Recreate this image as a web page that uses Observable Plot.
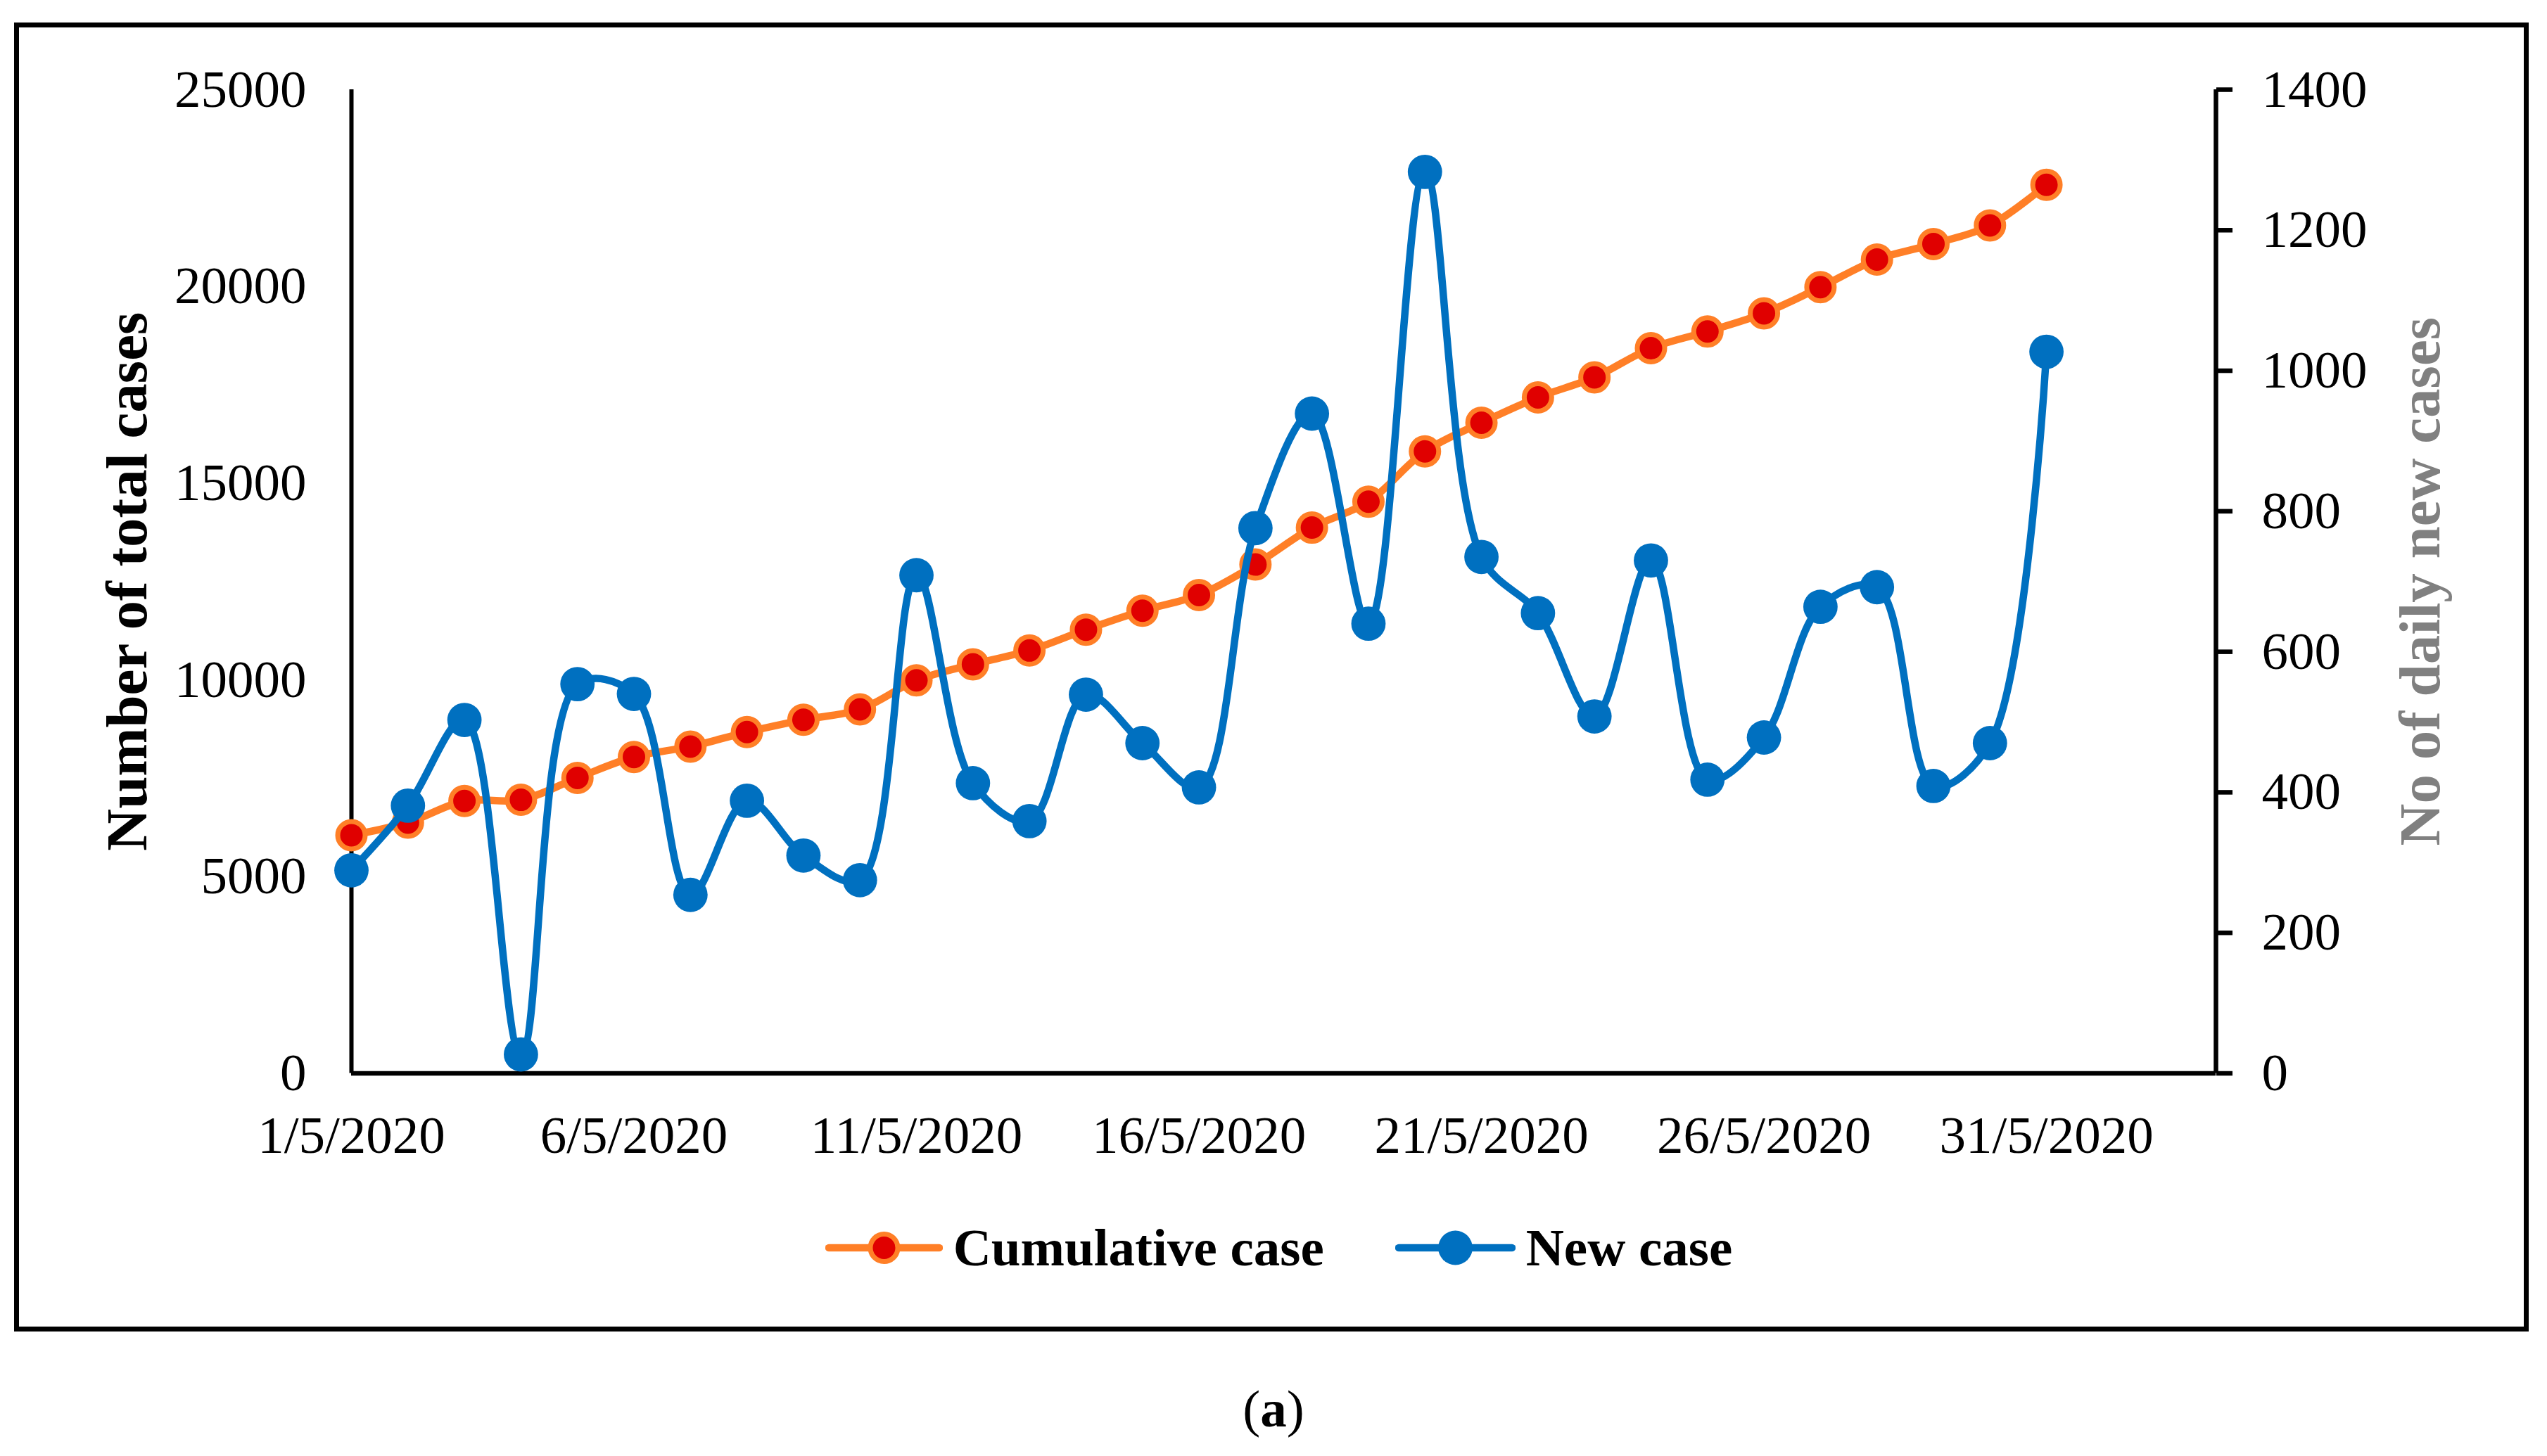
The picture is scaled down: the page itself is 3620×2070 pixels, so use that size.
<!DOCTYPE html>
<html>
<head>
<meta charset="utf-8">
<script src="https://cdn.jsdelivr.net/npm/d3@7"></script>
<script src="https://cdn.jsdelivr.net/npm/@observablehq/plot@0.6"></script>
<style>
  html, body { margin: 0; padding: 0; background: #fff; }
  body { width: 3620px; height: 2070px; position: relative; overflow: hidden; font-family: "Liberation Serif", "Times New Roman", serif; }
  #frame { position: absolute; left: 20px; top: 32px; width: 3560px; height: 1847px; border: 7px solid #000; }
  #frame svg { display: block; }
  #legend { height: 150px; display: flex; align-items: center; justify-content: center; padding-left: 21px; box-sizing: border-box; font-weight: bold; font-size: 75px; color: #000; }
  #legend .sym { display: block; }
  #caption { position: absolute; left: 0; top: 1965px; width: 3620px; text-align: center; font-size: 75px; line-height: 75px; color: #000; }
</style>
</head>
<body>
<div id="frame">
  <div id="chart"></div>
  <div id="legend"></div>
</div>
<div id="caption">(<b>a</b>)</div>
<script>
// ---- data ----
const days = [1,2,3,4,5,6,7,8,9,10,11,12,13,14,15,16,17,18,19,20,21,22,23,24,25,26,27,28,29,30,31];
const cumulativeCases = [6053,6375,6923,6952,7510,8041,8305,8674,8986,9251,9989,10397,10747,11277,11759,12156,12932,13870,14530,15807,16536,17179,17690,18429,18855,19317,19981,20682,21078,21552,22583];
const newCases = [289,381,503,27,554,540,254,388,310,275,709,413,359,539,470,407,776,939,640,1283,735,655,508,730,418,478,664,692,409,470,1027];
const xTickDays = [1,6,11,16,21,26,31];
const leftTicks = [0,5000,10000,15000,20000,25000];
const rightTicks = [0,200,400,600,800,1000,1200,1400];
const seriesNames = ["Cumulative case", "New case"];
const leftTitle = "Number of total cases";
const rightTitle = "No of daily new cases";

const leftMax = 25000, rightMax = 1400;
const ratio = leftMax / rightMax;
const dayDate = d => new Date(Date.UTC(2020, 4, d));
const rows = days.map((d, i) => ({date: dayDate(d), cum: cumulativeCases[i], nw: newCases[i]}));

const ORANGE = "#FF7F27", RED = "#E00000", BLUE = "#0070C0", GREY = "#808080";
const fmtDate = d => `${d.getUTCDate()}/${d.getUTCMonth() + 1}/${d.getUTCFullYear()}`;

const chart = Plot.plot({
  width: 3560,
  height: 1660,
  marginLeft: 472,
  marginRight: 438,
  marginTop: 88,
  marginBottom: 173.5,
  style: {fontFamily: "'Liberation Serif', 'Times New Roman', serif", fontSize: "75px", color: "#000", background: "transparent", overflow: "visible"},
  x: {type: "utc", domain: [dayDate(1), dayDate(34)]},
  y: {domain: [0, leftMax]},
  marks: [
    Plot.axisX({ticks: xTickDays.map(dayDate), tickFormat: fmtDate, tickSize: 0, tickPadding: 60, label: null, fontSize: 75}),
    Plot.axisY({anchor: "left", ticks: leftTicks, tickFormat: d => String(d), tickSize: 0, tickPadding: 64, label: null, fontSize: 75}),
    Plot.axisY({anchor: "right", ticks: rightTicks.map(v => v * ratio), tickFormat: d => String(Math.round(d / ratio)), tickSize: 23, tickPadding: 42, strokeWidth: 6.5, label: null, fontSize: 75}),
    Plot.ruleX([dayDate(1)], {stroke: "#000", strokeWidth: 6}),
    Plot.ruleX([dayDate(34)], {stroke: "#000", strokeWidth: 6.5}),
    Plot.ruleY([0], {stroke: "#000", strokeWidth: 6.5}),
    Plot.line(rows, {x: "date", y: "cum", stroke: ORANGE, strokeWidth: 10.5, curve: "catmull-rom", strokeLinejoin: "round", strokeLinecap: "round"}),
    Plot.dot(rows, {x: "date", y: "cum", r: 19.5, fill: RED, stroke: ORANGE, strokeWidth: 7}),
    Plot.line(rows, {x: "date", y: d => d.nw * ratio, stroke: BLUE, strokeWidth: 10.5, curve: "catmull-rom", strokeLinejoin: "round", strokeLinecap: "round"}),
    Plot.dot(rows, {x: "date", y: d => d.nw * ratio, r: 24.4, fill: BLUE, stroke: "none"}),
    Plot.text([leftTitle], {text: d => d, frameAnchor: "left", textAnchor: "middle", dx: -317.6, rotate: -90, fontSize: 83, fontWeight: "bold", fill: "#000"}),
    Plot.text([rightTitle], {text: d => d, frameAnchor: "right", textAnchor: "middle", dx: 291.4, rotate: -90, fontSize: 83, fontWeight: "bold", fill: GREY})
  ]
});
document.getElementById("chart").appendChild(chart);

// ---- legend ----
const legend = d3.select("#legend");
const legendItems = [
  {name: seriesNames[0], line: ORANGE, fill: RED, stroke: ORANGE, r: 19.5, sw: 7, w: 167, gapAfter: 101},
  {name: seriesNames[1], line: BLUE, fill: BLUE, stroke: "none", r: 24.4, sw: 0, w: 171, gapAfter: 0}
];
legendItems.forEach(it => {
  const svg = legend.append("svg").attr("class", "sym").attr("width", it.w).attr("height", 60).style("margin-right", "15px");
  svg.append("line").attr("x1", 5).attr("x2", it.w - 5).attr("y1", 30).attr("y2", 30)
    .attr("stroke", it.line).attr("stroke-width", 10.5).attr("stroke-linecap", "round");
  svg.append("circle").attr("cx", it.w / 2).attr("cy", 30).attr("r", it.r)
    .attr("fill", it.fill).attr("stroke", it.stroke).attr("stroke-width", it.sw);
  legend.append("span").text(it.name).style("margin-right", it.gapAfter + "px");
});
</script>
</body>
</html>
